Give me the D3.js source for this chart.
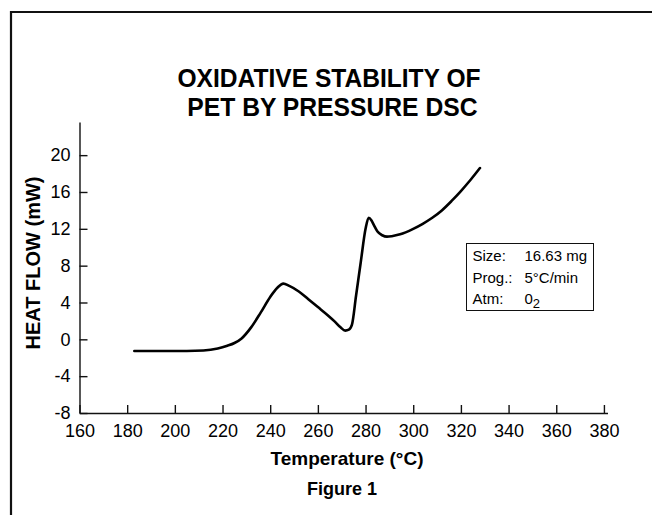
<!DOCTYPE html>
<html>
<head>
<meta charset="utf-8">
<script src="https://cdn.jsdelivr.net/npm/d3@7"></script>
<style>
  body { margin: 0; background: #fff; }
  svg text { font-family: "Liberation Sans", Arial, sans-serif; fill: #000; }
  .axis path, .axis line { stroke: #111; stroke-width: 1.4; }
  .axis text { font-size: 18px; }
</style>
</head>
<body>
<svg id="chart" width="652" height="515"></svg>
<script>
// DSC trace of PET
var temps = [183, 195, 205, 212, 218, 222, 225, 228, 232, 236, 240, 243, 245.5,
             248, 252, 256, 260, 264, 267, 269.5, 271.5, 273, 274.3, 276, 278,
             280, 281.3, 282.5, 283.5, 285, 287, 289, 291, 294.5, 300, 304,
             308, 312, 316, 320, 324, 328];
var heatFlow = [-1.27, -1.27, -1.27, -1.22, -1.0, -0.7, -0.4, 0.1, 1.3, 2.9, 4.6, 5.6, 6.05,
                5.8, 5.2, 4.35, 3.5, 2.65, 1.95, 1.3, 0.95, 1.05, 1.6, 4.7, 8.4,
                12.0, 13.2, 12.9, 12.4, 11.7, 11.3, 11.15, 11.2, 11.4, 12.0, 12.55,
                13.2, 14.0, 15.0, 16.1, 17.3, 18.6];

var xTicks = [160, 180, 200, 220, 240, 260, 280, 300, 320, 340, 360, 380];
var yTicks = [-8, -4, 0, 4, 8, 12, 16, 20];

var titleLines = ["OXIDATIVE STABILITY OF", " PET BY PRESSURE DSC"];
var legendRows = [["Size:", "16.63 mg", ""], ["Prog.:", "5\u00b0C/min", ""], ["Atm:", "0", "2"]];

var svg = d3.select("#chart");

// outer frame, cut off at right and bottom edges
svg.append("path")
  .attr("d", "M11,520 L11,12 L660,12")
  .attr("fill", "none")
  .attr("stroke", "#111")
  .attr("stroke-width", 2.2);

var x = d3.scaleLinear().domain([160, 381.5]).range([79.5, 607.5]);
var y = d3.scaleLinear().domain([-8, 23.6]).range([413, 122]);

// title (narrow, tall lettering in the original)
svg.selectAll("text.title")
  .data(titleLines)
  .enter().append("text")
    .attr("class", "title")
    .attr("x", 329)
    .attr("y", function(d, i) { return 87 + i * 29; })
    .attr("text-anchor", "middle")
    .attr("font-size", 26)
    .attr("font-weight", "bold")
    .attr("textLength", function(d, i) { return i ? 297 : 303; })
    .attr("lengthAdjust", "spacingAndGlyphs")
    .style("white-space", "pre")
    .text(function(d) { return d; });

// axes
var xAxis = svg.append("g")
  .attr("class", "axis")
  .attr("transform", "translate(0," + y(-8) + ")")
  .call(d3.axisBottom(x).tickValues(xTicks).tickSizeInner(-8).tickSizeOuter(0).tickPadding(8));
xAxis.selectAll("text").attr("dy", "0.71em").attr("y", 11);

var yAxis = svg.append("g")
  .attr("class", "axis")
  .attr("transform", "translate(" + x(160) + ",0)")
  .call(d3.axisLeft(y).tickValues(yTicks).tickSizeInner(-8).tickSizeOuter(0).tickPadding(9)
    .tickFormat(function(d) { return String(d); }));

// axis titles
svg.append("text")
  .attr("x", 347)
  .attr("y", 465)
  .attr("text-anchor", "middle")
  .attr("font-size", 19)
  .attr("font-weight", "bold")
  .text("Temperature (\u00b0C)");

svg.append("text")
  .attr("transform", "translate(40,263) rotate(-90)")
  .attr("text-anchor", "middle")
  .attr("font-size", 20)
  .attr("font-weight", "bold")
  .text("HEAT FLOW (mW)");

svg.append("text")
  .attr("x", 342)
  .attr("y", 495)
  .attr("text-anchor", "middle")
  .attr("font-size", 18)
  .attr("font-weight", "bold")
  .text("Figure 1");

// the trace
var pts = temps.map(function(t, i) { return [t, heatFlow[i]]; });
svg.append("path")
  .datum(pts)
  .attr("fill", "none")
  .attr("stroke", "#000")
  .attr("stroke-width", 2.6)
  .attr("stroke-linejoin", "round")
  .attr("stroke-linecap", "round")
  .attr("d", d3.line()
    .x(function(d) { return x(d[0]); })
    .y(function(d) { return y(d[1]); })
    .curve(d3.curveMonotoneX));

// sample info box
var box = svg.append("g").attr("transform", "translate(466.5,243.5)");
box.append("rect")
  .attr("width", 127)
  .attr("height", 67)
  .attr("fill", "#fff")
  .attr("stroke", "#111")
  .attr("stroke-width", 1);

var rows = box.selectAll("g.row")
  .data(legendRows)
  .enter().append("g")
    .attr("class", "row")
    .attr("transform", function(d, i) { return "translate(0," + (17.5 + i * 21.5) + ")"; });

rows.append("text")
  .attr("x", 6)
  .attr("font-size", 15)
  .text(function(d) { return d[0]; });

var vals = rows.append("text")
  .attr("x", 58)
  .attr("font-size", 15);
vals.append("tspan").text(function(d) { return d[1]; });
vals.append("tspan")
  .attr("dy", 4)
  .attr("font-size", 13)
  .text(function(d) { return d[2]; });
</script>
</body>
</html>
